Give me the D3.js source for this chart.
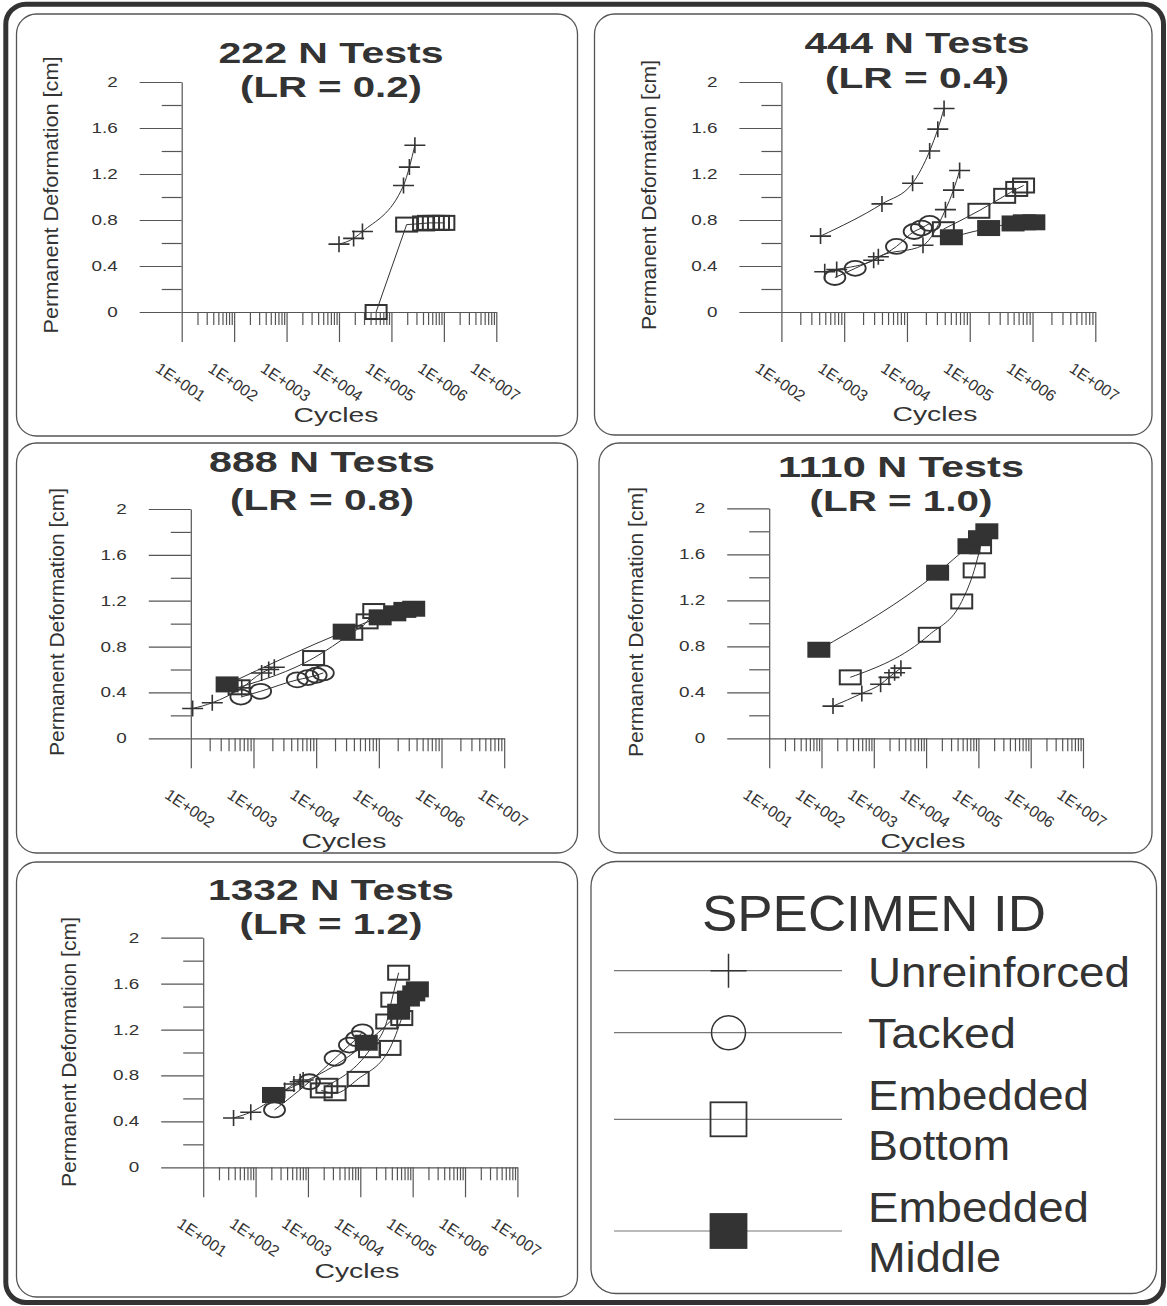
<!DOCTYPE html>
<html>
<head>
<meta charset="utf-8">
<script src="https://cdn.jsdelivr.net/npm/d3@7"></script>
<style>
  body { margin: 0; background: #fff; }
  svg { display: block; font-family: "Liberation Sans", Arial, sans-serif; }
</style>
</head>
<body>
<div id="app"></div>
<script>
// ---- data: [cycles, permanent deformation (cm)] ----
const yTickValues = [0, 0.4, 0.8, 1.2, 1.6, 2];
const yTickLabels = ["0", "0.4", "0.8", "1.2", "1.6", "2"];
const yMinorValues = [0.2, 0.6, 1.0, 1.4, 1.8];

// 222 N (LR = 0.2)
const p222Unreinforced = [[1.0e4, 0.59], [1.9e4, 0.64], [2.8e4, 0.70], [1.7e5, 1.10], [2.2e5, 1.26], [2.8e5, 1.45]];
const p222EmbBottom = [[5.1e4, 0.0], [1.95e5, 0.76], [4.1e5, 0.77], [5.1e5, 0.775], [6.3e5, 0.775], [7.9e5, 0.775], [1.0e6, 0.775]];

// 444 N (LR = 0.4)
const p444UnreinforcedA = [[420, 0.66], [4000, 0.94], [1.23e4, 1.12], [2.3e4, 1.40], [3.1e4, 1.59], [3.9e4, 1.77]];
const p444UnreinforcedB = [[490, 0.35], [760, 0.37], [2950, 0.45], [3500, 0.48], [1.8e4, 0.58], [4.1e4, 0.89], [5.5e4, 1.06], [6.9e4, 1.23]];
const p444Tacked = [[710, 0.30], [1500, 0.38], [6800, 0.57], [1.3e4, 0.70], [1.7e4, 0.73], [2.3e4, 0.77]];
const p444EmbBottom = [[3.8e4, 0.72], [1.4e5, 0.88], [3.6e5, 1.01], [5.6e5, 1.07], [7.2e5, 1.10]];
const p444EmbMiddle = [[5.1e4, 0.65], [2.0e5, 0.73], [4.9e5, 0.77], [7.4e5, 0.78], [1.05e6, 0.78]];

// 888 N (LR = 0.8)
const p888Unreinforced = [[107, 0.26], [220, 0.31], [650, 0.44], [1350, 0.57], [1750, 0.60], [2150, 0.62]];
const p888Tacked = [[630, 0.36], [1300, 0.41], [5000, 0.51], [7400, 0.53], [1.0e4, 0.55], [1.3e4, 0.57]];
const p888EmbBottom = [[590, 0.445], [9100, 0.70], [3.7e4, 0.92], [6.5e4, 1.02], [8.3e4, 1.11]];
const p888EmbMiddle = [[380, 0.47], [2.8e4, 0.93], [1.05e5, 1.055], [1.8e5, 1.09], [2.6e5, 1.12], [3.6e5, 1.13]];

// 1110 N (LR = 1.0)
const p1110Unreinforced = [[166, 0.28], [590, 0.39], [1350, 0.47], [1950, 0.53], [2500, 0.57], [3300, 0.61]];
const p1110EmbBottom = [[355, 0.53], [1.15e4, 0.90], [4.8e4, 1.19], [8.3e4, 1.46], [1.1e5, 1.67]];
const p1110EmbMiddle = [[89, 0.77], [1.66e4, 1.44], [6.6e4, 1.67], [1.05e5, 1.74], [1.45e5, 1.80]];

// 1332 N (LR = 1.2)
const p1332Unreinforced = [[38, 0.43], [81, 0.48], [360, 0.67], [540, 0.725], [710, 0.745], [810, 0.76]];
const p1332Tacked = [[230, 0.50], [1070, 0.745], [3300, 0.95], [6200, 1.065], [8500, 1.12], [1.1e4, 1.18]];
const p1332EmbBottomA = [[2300, 0.71], [1.5e4, 1.02], [3.2e4, 1.27], [4.0e4, 1.46], [5.4e4, 1.695]];
const p1332EmbBottomB = [[1800, 0.67], [3300, 0.645], [9100, 0.77], [3.7e4, 1.04], [6.2e4, 1.30]];
const p1332EmbMiddle = [[220, 0.63], [1.3e4, 1.085], [5.4e4, 1.355], [8.3e4, 1.47], [1.05e5, 1.515], [1.23e5, 1.55]];

const legendTypes = ["plus", "circle", "open", "filled"];
const legendLabels = [["Unreinforced"], ["Tacked"], ["Embedded", "Bottom"], ["Embedded", "Middle"]];

// ---- layout ----
const W = 1167, H = 1306;
const ink = "#333";

const panels = [
  { title: ["222 N Tests", "(LR = 0.2)"], titleW: [225, 182], titleX: 331, titleY: [63, 97],
    box: [16.5, 14, 561, 422], ax: 181.7, ax1: 496.3, dec: 1, y0: 312, y2: 82,
    cyc: [336, 422], ylab: [58, 195, 277],
    series: [["plus", p222Unreinforced], ["open", p222EmbBottom, "linear"]] },
  { title: ["444 N Tests", "(LR = 0.4)"], titleW: [225, 184], titleX: 917, titleY: [53, 88],
    box: [594.5, 14, 557.5, 421], ax: 781.4, ax1: 1095.3, dec: 2, y0: 312, y2: 82,
    cyc: [935, 421], ylab: [656, 195, 270],
    series: [["plus", p444UnreinforcedA], ["plus", p444UnreinforcedB], ["circle", p444Tacked],
             ["open", p444EmbBottom], ["filled", p444EmbMiddle]] },
  { title: ["888 N Tests", "(LR = 0.8)"], titleW: [226, 184], titleX: 322, titleY: [472, 510],
    box: [16.5, 443, 561, 410], ax: 190.8, ax1: 504.2, dec: 2, y0: 738.3, y2: 509,
    cyc: [344, 848], ylab: [64, 622, 268],
    series: [["plus", p888Unreinforced], ["circle", p888Tacked], ["open", p888EmbBottom], ["filled", p888EmbMiddle]] },
  { title: ["1110 N Tests", "(LR = 1.0)"], titleW: [246, 183], titleX: 901, titleY: [477, 511],
    box: [599, 443, 553, 410], ax: 769.2, ax1: 1083, dec: 1, y0: 738.3, y2: 508.3,
    cyc: [923, 848], ylab: [643, 622, 270],
    series: [["plus", p1110Unreinforced], ["open", p1110EmbBottom], ["filled", p1110EmbMiddle]] },
  { title: ["1332 N Tests", "(LR = 1.2)"], titleW: [246, 183], titleX: 331, titleY: [900, 934],
    box: [16.5, 862, 561, 435], ax: 203.2, ax1: 517.4, dec: 1, y0: 1167.3, y2: 937.7,
    cyc: [357, 1278], ylab: [76, 1052, 270],
    series: [["plus", p1332Unreinforced], ["circle", p1332Tacked], ["open", p1332EmbBottomA],
             ["open", p1332EmbBottomB], ["filled", p1332EmbMiddle]] }
];

const svg = d3.select("#app").append("svg").attr("width", W).attr("height", H);
svg.append("rect").attr("width", W).attr("height", H).attr("fill", "#fff");

// outer frame
svg.append("rect")
  .attr("x", 5.8).attr("y", 4.2).attr("width", 1157.7).attr("height", 1298.3)
  .attr("rx", 20).attr("fill", "none").attr("stroke", ink).attr("stroke-width", 5);

function drawMarker(g, type, cx, cy, hw, hh) {
  if (type === "plus") {
    g.append("path")
      .attr("d", `M${cx - hw},${cy}H${cx + hw}M${cx},${cy - hh}V${cy + hh}`)
      .attr("stroke", ink).attr("stroke-width", 1.6).attr("fill", "none");
  } else if (type === "circle") {
    g.append("ellipse").attr("cx", cx).attr("cy", cy).attr("rx", hw).attr("ry", hh)
      .attr("fill", "none").attr("stroke", ink).attr("stroke-width", 1.8);
  } else {
    g.append("rect").attr("x", cx - hw).attr("y", cy - hh).attr("width", 2 * hw).attr("height", 2 * hh)
      .attr("fill", type === "filled" ? ink : "none")
      .attr("stroke", ink).attr("stroke-width", 2);
  }
}

panels.forEach((p) => {
  const g = svg.append("g");

  g.append("rect")
    .attr("x", p.box[0]).attr("y", p.box[1]).attr("width", p.box[2]).attr("height", p.box[3])
    .attr("rx", 20).attr("fill", "none").attr("stroke", "#555").attr("stroke-width", 1.3);

  const x = d3.scaleLog().domain([Math.pow(10, p.dec), 1e7]).range([p.ax, p.ax1]);
  const y = d3.scaleLinear().domain([0, 2]).range([p.y0, p.y2]);

  const decades = d3.range(p.dec, 8).map((e) => Math.pow(10, e));
  const minors = [];
  decades.slice(0, -1).forEach((d) => { for (let k = 2; k <= 9; k++) minors.push(d * k); });

  // x axis: minor ticks, then decade ticks with the axis line
  g.append("g").attr("transform", `translate(0,${p.y0})`)
    .call(d3.axisBottom(x).tickValues(minors).tickSize(13).tickFormat(""))
    .call((a) => a.select(".domain").remove());
  g.append("g").attr("transform", `translate(0,${p.y0})`)
    .call(d3.axisBottom(x).tickValues(decades).tickSize(30).tickSizeOuter(0).tickFormat(""));

  // y axis: minor ticks, then labelled ticks
  g.append("g").attr("transform", `translate(${p.ax},0)`)
    .call(d3.axisLeft(y).tickValues(yMinorValues).tickSize(20).tickFormat(""))
    .call((a) => a.select(".domain").remove());
  const ya = g.append("g").attr("transform", `translate(${p.ax},0)`)
    .call(d3.axisLeft(y).tickValues(yTickValues).tickSize(42).tickSizeOuter(0)
      .tickFormat((d, i) => yTickLabels[i]));
  ya.selectAll("text")
    .attr("x", -64 / 1.35).attr("transform", "scale(1.35,1)")
    .attr("font-size", 14).attr("font-family", "Liberation Sans, Arial, sans-serif").attr("fill", ink);

  g.selectAll(".domain, .tick line").attr("stroke", "#555").attr("stroke-width", 1.2);

  // rotated decade labels
  decades.forEach((d) => {
    const e = Math.round(Math.log10(d));
    const lx = x(d) - 1, ly = p.y0 + 70;
    g.append("text")
      .attr("transform", `translate(${lx},${ly}) rotate(34)`)
      .attr("text-anchor", "middle").attr("dominant-baseline", "central")
      .attr("font-size", 16).attr("fill", ink)
      .text("1E+" + String(e).padStart(3, "0"));
  });

  // axis titles
  g.append("text")
    .attr("x", p.cyc[0]).attr("y", p.cyc[1]).attr("text-anchor", "middle")
    .attr("font-size", 20).attr("fill", ink)
    .attr("textLength", 85).attr("lengthAdjust", "spacingAndGlyphs")
    .text("Cycles");
  g.append("text")
    .attr("transform", `translate(${p.ylab[0]},${p.ylab[1]}) rotate(-90)`)
    .attr("text-anchor", "middle").attr("font-size", 21).attr("fill", ink)
    .attr("textLength", p.ylab[2]).attr("lengthAdjust", "spacingAndGlyphs")
    .text("Permanent Deformation [cm]");

  // panel title
  p.title.forEach((t, i) => {
    g.append("text")
      .attr("x", p.titleX).attr("y", p.titleY[i]).attr("text-anchor", "middle")
      .attr("font-size", 29).attr("font-weight", "bold").attr("fill", ink)
      .attr("textLength", p.titleW[i]).attr("lengthAdjust", "spacingAndGlyphs")
      .text(t);
  });

  // series lines
  p.series.forEach(([type, pts, curve]) => {
    const line = d3.line().x((d) => x(d[0])).y((d) => y(d[1]))
      .curve(curve === "linear" ? d3.curveLinear : d3.curveMonotoneX);
    g.append("path").attr("d", line(pts))
      .attr("fill", "none").attr("stroke", ink).attr("stroke-width", 1);
  });
  // markers
  p.series.forEach(([type, pts]) => {
    pts.forEach((d) => {
      const hh = type === "plus" ? 8 : type === "circle" ? 7.5 : 7;
      drawMarker(g, type, x(d[0]), y(d[1]), 10.5, hh);
    });
  });
});

// ---- legend ----
const lg = svg.append("g");
lg.append("rect")
  .attr("x", 591).attr("y", 861.5).attr("width", 565.5).attr("height", 432)
  .attr("rx", 25).attr("fill", "none").attr("stroke", "#555").attr("stroke-width", 1.3);
lg.append("text")
  .attr("x", 874).attr("y", 931).attr("text-anchor", "middle")
  .attr("font-size", 50).attr("fill", ink)
  .attr("textLength", 344).attr("lengthAdjust", "spacingAndGlyphs")
  .text("SPECIMEN ID");

const rowY = [970.7, 1032.7, 1119.3, 1231];
const labelY = [[987], [1048], [1110, 1160], [1221.7, 1271.7]];
const labelW = { Unreinforced: 262, Tacked: 148, Embedded: 221, Bottom: 142, Middle: 133 };
legendTypes.forEach((type, i) => {
  lg.append("line")
    .attr("x1", 614).attr("x2", 842).attr("y1", rowY[i]).attr("y2", rowY[i])
    .attr("stroke", "#777").attr("stroke-width", 1.2);
  if (type === "circle") {
    lg.append("circle").attr("cx", 728.5).attr("cy", rowY[i]).attr("r", 17)
      .attr("fill", "none").attr("stroke", ink).attr("stroke-width", 1.5);
  } else if (type === "plus") {
    lg.append("path")
      .attr("d", `M${728.5 - 18},${rowY[i]}H${728.5 + 18}M${728.5},${rowY[i] - 17}V${rowY[i] + 17}`)
      .attr("stroke", ink).attr("stroke-width", 1.5);
  } else {
    lg.append("rect").attr("x", 710.5).attr("y", rowY[i] - 17).attr("width", 36).attr("height", 34)
      .attr("fill", type === "filled" ? ink : "none")
      .attr("stroke", ink).attr("stroke-width", 1.8);
  }
  legendLabels[i].forEach((t, j) => {
    lg.append("text")
      .attr("x", 868).attr("y", labelY[i][j])
      .attr("font-size", 43).attr("fill", ink)
      .attr("textLength", labelW[t]).attr("lengthAdjust", "spacingAndGlyphs")
      .text(t);
  });
});
</script>
</body>
</html>
